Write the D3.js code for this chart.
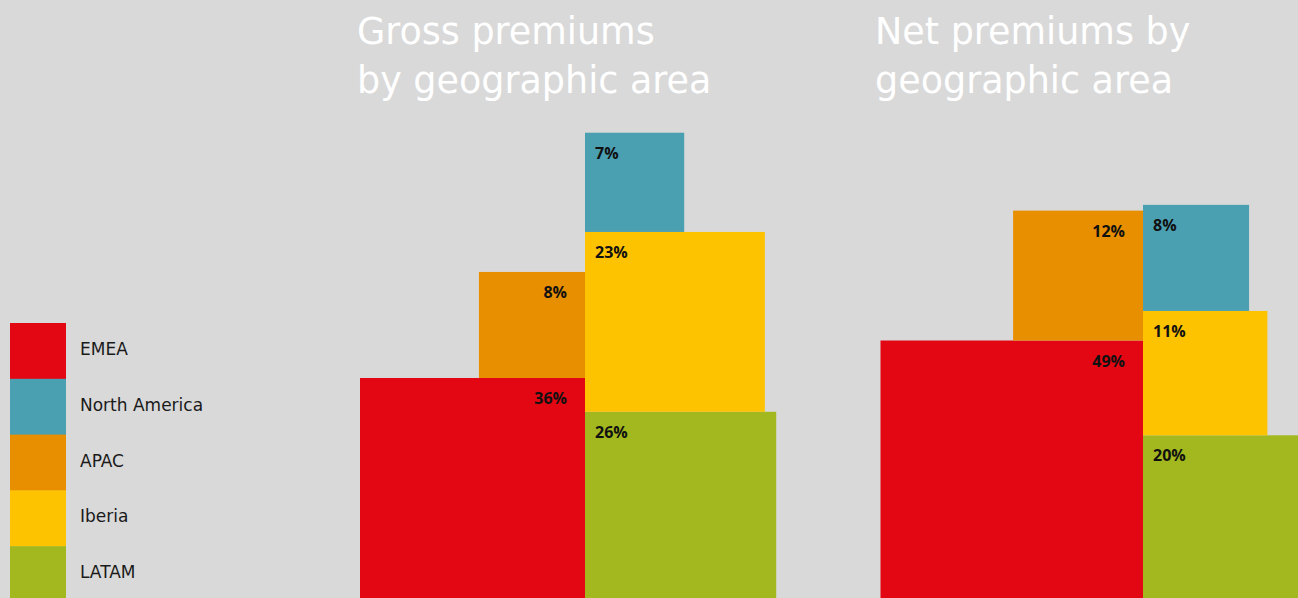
<!DOCTYPE html>
<html>
<head>
<meta charset="utf-8">
<script src="https://cdn.jsdelivr.net/npm/d3@7"></script>
<style>
  html, body { margin: 0; padding: 0; background: #d9d9d9; overflow: hidden; }
  svg { display: block; }
</style>
</head>
<body>
<svg id="chart" width="1298" height="598"></svg>
<script>
// Regions, their colours and premium shares (%)
const regions = ["EMEA", "North America", "APAC", "Iberia", "LATAM"];
const regionColors = ["#e30613", "#4aa0b1", "#e88f00", "#fdc300", "#a2b81e"];
const grossShare = [36, 7, 8, 23, 26];
const netShare = [49, 8, 12, 11, 20];

// Blocks piled on the left and right of each chart's dividing line, bottom first
const leftPile = ["EMEA", "APAC"];
const rightPile = ["LATAM", "Iberia", "North America"];

const panelTitles = [
  ["Gross premiums", "by geographic area"],
  ["Net premiums by", "geographic area"]
];

const W = 1298, H = 598;
const svg = d3.select("#chart");
svg.append("rect").attr("width", W).attr("height", H).attr("fill", "#d9d9d9");

const color = d3.scaleOrdinal().domain(regions).range(regionColors);
// Each region is a square whose area is proportional to its share
const side = d3.scaleSqrt().domain([0, 100]).range([0, 375]);

const panels = [
  { title: panelTitles[0], values: grossShare, split: 585, titleX: 357 },
  { title: panelTitles[1], values: netShare, split: 1143, titleX: 875 }
];
const baseline = 603;

panels.forEach(p => {
  const share = new Map(regions.map((r, i) => [r, p.values[i]]));
  const g = svg.append("g");

  // Title
  const t = g.append("text")
    .attr("x", p.titleX)
    .attr("y", 44)
    .attr("fill", "#ffffff")
    .attr("font-family", "'DejaVu Sans', sans-serif")
    .attr("font-size", 36.5);
  p.title.forEach((line, i) => {
    t.append("tspan").attr("x", p.titleX).attr("dy", i === 0 ? 0 : 49).text(line);
  });

  const blocks = [];
  let top = baseline;
  leftPile.forEach(r => {
    const s = side(share.get(r));
    top -= s;
    blocks.push({ region: r, x: p.split - s, y: top, s, side: "left" });
  });
  top = baseline;
  rightPile.forEach(r => {
    const s = side(share.get(r));
    top -= s;
    blocks.push({ region: r, x: p.split, y: top, s, side: "right" });
  });

  g.selectAll("rect.block").data(blocks).join("rect")
    .attr("class", "block")
    .attr("x", d => d.x)
    .attr("y", d => d.y)
    .attr("width", d => d.s)
    .attr("height", d => d.s)
    .attr("fill", d => color(d.region));

  g.selectAll("text.val").data(blocks).join("text")
    .attr("class", "val")
    .attr("x", d => d.side === "left" ? d.x + d.s - 18 : d.x + 10)
    .attr("y", d => d.y + 26)
    .attr("text-anchor", d => d.side === "left" ? "end" : "start")
    .attr("font-family", "'Open Sans', sans-serif")
    .attr("font-weight", 700)
    .attr("font-size", 16)
    .attr("fill", "#111111")
    .text(d => share.get(d.region) + "%");
});

// Legend
const legendY = d3.scaleBand().domain(regions).range([323, 602]).paddingInner(0);
const legend = svg.append("g");
legend.selectAll("rect").data(regions).join("rect")
  .attr("x", 10)
  .attr("y", d => legendY(d))
  .attr("width", 56)
  .attr("height", legendY.bandwidth() + 0.5)
  .attr("fill", d => color(d));
legend.selectAll("text").data(regions).join("text")
  .attr("x", 80)
  .attr("y", d => legendY(d) + legendY.bandwidth() / 2 + 4)
  .attr("font-family", "'DejaVu Sans', sans-serif")
  .attr("font-size", 17)
  .attr("fill", "#1a1a1a")
  .text(d => d);
</script>
</body>
</html>
